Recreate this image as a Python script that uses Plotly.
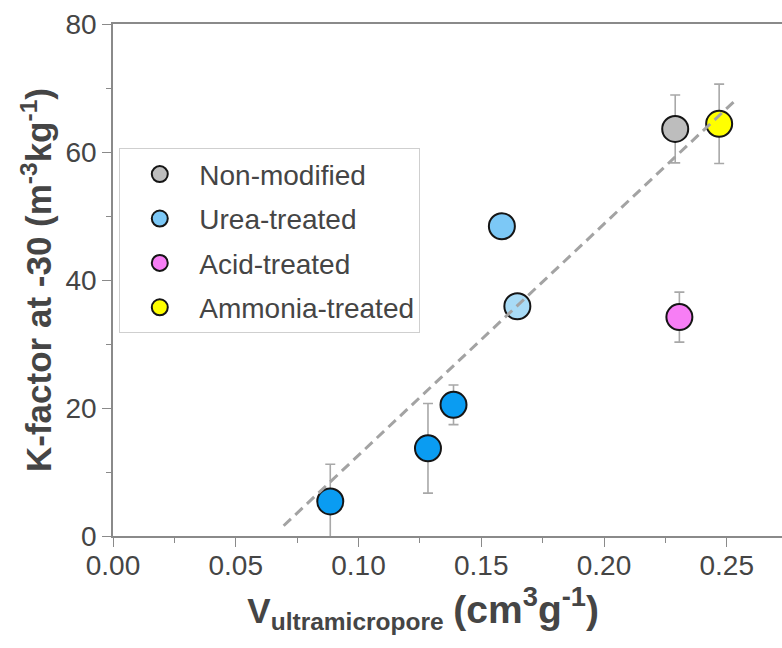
import plotly.graph_objects as go

# ---- data ----
nonmod_x = [0.229]
nonmod_y = [63.6]
nonmod_err = [5.3]

urea_x = [0.1584, 0.1647]
urea_y = [48.4, 35.9]

acid_x = [0.2307]
acid_y = [34.2]
acid_err = [3.9]

ammonia_x = [0.2469]
ammonia_y = [64.4]
ammonia_err = [6.2]

other_x = [0.0885, 0.1283, 0.1387]
other_y = [5.4, 13.7, 20.5]
other_err = [5.8, 7.0, 3.1]

fit_x = [0.0695, 0.253]
fit_y = [1.6, 67.9]

x_ticks = [0.00, 0.05, 0.10, 0.15, 0.20, 0.25]
x_ticklabels = ["0.00", "0.05", "0.10", "0.15", "0.20", "0.25"]
y_ticks = [0, 20, 40, 60, 80]

# ---- style ----
MS = 26
LINE = dict(color="#151515", width=2)
ERR_COLOR = "#a8a8a8"
FONT = "Liberation Sans, Arial, sans-serif"
TXT = "#454545"


def err(vals):
    return dict(type="data", array=vals, visible=True, color=ERR_COLOR, thickness=1.6, width=5)


fig = go.Figure()

fig.add_trace(go.Scatter(x=other_x, y=other_y, mode="markers", showlegend=False,
                         error_y=err(other_err),
                         marker=dict(size=MS, color="#0a9cf2", line=LINE)))
fig.add_trace(go.Scatter(x=nonmod_x, y=nonmod_y, mode="markers", name="Non-modified",
                         legendgroup="a", error_y=err(nonmod_err),
                         marker=dict(size=MS, color="#bdbdbd", line=LINE)))
fig.add_trace(go.Scatter(x=urea_x, y=urea_y, mode="markers", name="Urea-treated",
                         legendgroup="b",
                         marker=dict(size=MS, color=["#7cc8f6", "#a8dbf6"], line=LINE)))
fig.add_trace(go.Scatter(x=acid_x, y=acid_y, mode="markers", name="Acid-treated",
                         legendgroup="c", error_y=err(acid_err),
                         marker=dict(size=MS, color="#f77ef5", line=LINE)))
fig.add_trace(go.Scatter(x=ammonia_x, y=ammonia_y, mode="markers", name="Ammonia-treated",
                         legendgroup="d", error_y=err(ammonia_err),
                         marker=dict(size=MS, color="#ffff00", line=LINE)))
fig.add_trace(go.Scatter(x=fit_x, y=fit_y, mode="lines", showlegend=False,
                         line=dict(color="#a3a3a3", width=3, dash="10px,6px")))

axis_common = dict(
    showline=True, linecolor="#8a8a8a", linewidth=1.5,
    ticks="outside", ticklen=9, tickwidth=1.3, tickcolor="#8a8a8a",
    showgrid=False, zeroline=False,
    tickfont=dict(family=FONT, size=28, color=TXT),
)

fig.update_xaxes(
    range=[0, 0.2725], tickvals=x_ticks, ticktext=x_ticklabels, mirror=True,
    ticklabelstandoff=-5,
    minor=dict(dtick=0.025, ticks="outside", ticklen=5, tickcolor="#8a8a8a", tickwidth=1.2, showgrid=False),
    title=dict(text="<b>V<sub>ultramicropore</sub> <span style='font-size:39px'>(cm<sup>3</sup>g<sup>-1</sup>)</span></b>"
                    "&nbsp;&nbsp;&nbsp;&nbsp;&nbsp;",
               font=dict(family=FONT, size=35, color=TXT), standoff=10),
    **axis_common)
fig.update_yaxes(
    range=[0, 80], tickvals=y_ticks,
    minor=dict(dtick=10, ticks="outside", ticklen=5, tickcolor="#8a8a8a", tickwidth=1.2, showgrid=False),
    title=dict(text="<b>K-factor at -30 (m<sup>-3</sup>kg<sup>-1</sup>)</b>",
               font=dict(family=FONT, size=35, color=TXT), standoff=3),
    **axis_common)

fig.update_layout(
    width=782, height=648,
    margin=dict(l=113, r=0, t=24, b=112),
    plot_bgcolor="white", paper_bgcolor="white",
    legend=dict(x=0.0094, y=0.757, xanchor="left", yanchor="top",
                bgcolor="white", bordercolor="#cfcfcf", borderwidth=1,
                font=dict(family=FONT, size=28, color=TXT),
                tracegroupgap=5, itemsizing="trace", itemwidth=69),
)

fig.write_html("out.html")
